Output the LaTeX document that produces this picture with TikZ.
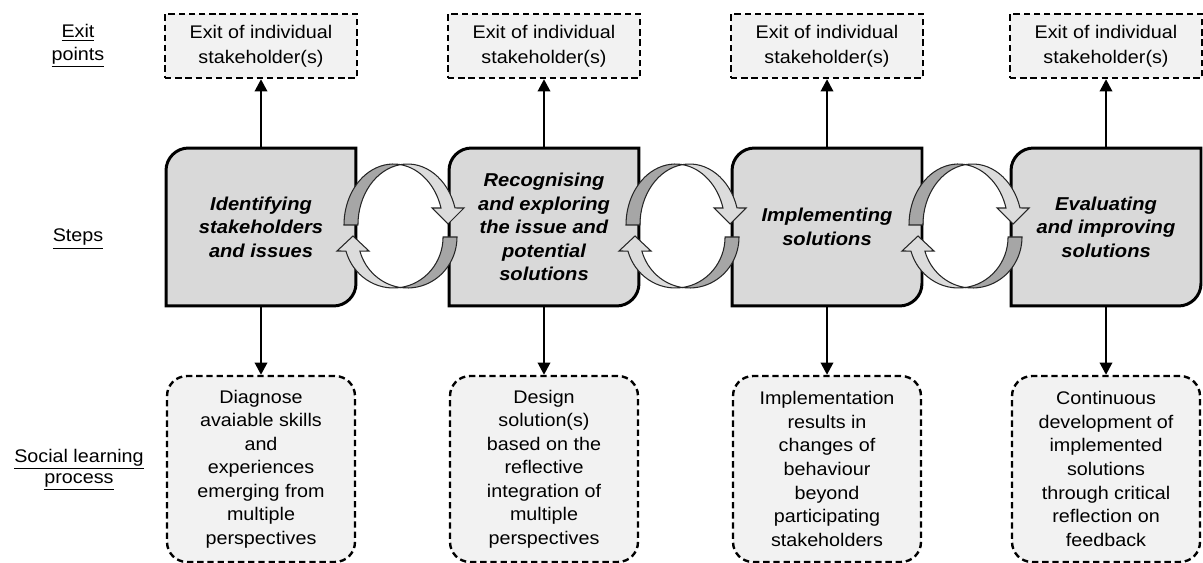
\documentclass[tikz,border=0pt]{standalone}
\usepackage{fontspec}
\setmainfont{Liberation Sans}[FakeStretch=1.08]
\usetikzlibrary{arrows.meta,backgrounds}
\definecolor{exitfill}{RGB}{242,242,242}
\definecolor{stepfill}{RGB}{217,217,217}
\definecolor{turnlight}{RGB}{220,220,220}
\definecolor{turndark}{RGB}{166,166,166}
\tikzset{exitbox/.style={draw,line width=1.35pt,dash pattern=on 3.6pt off 2.2pt,fill=exitfill,minimum width=3.84cm,minimum height=1.28cm,align=center,font=\fontsize{10.4}{14}\selectfont},
learnbox/.style={exitbox,rounded corners=0.4cm,minimum width=3.76cm,minimum height=3.72cm,font=\fontsize{10.4}{13.4}\selectfont},
stepbox/.style={minimum width=3.8cm,minimum height=3.16cm,outer sep=0pt,align=center,font=\fontsize{10.6}{13.3}\selectfont\bfseries\itshape},
stepline/.style={line width=1.7pt,fill=stepfill},
rowlabel/.style={align=center,font=\fontsize{10.4}{13}\selectfont},
link/.style={->,line width=1.5pt},
turn/.style={draw=black!85,line width=0.6pt}}

\begin{document}
\begin{tikzpicture}[x=0.02cm,y=0.02cm,>={Triangle[length=7pt,width=7pt]}]
\useasboundingbox (0,0) rectangle (1203,-563);
% row labels
\node[rowlabel] (lexit) at (78,-46) {\underline{Exit}\\\underline{points}};
\node[rowlabel] (lsteps) at (78,-239) {\underline{Steps}};
\node[rowlabel,font=\fontsize{10.4}{12}\selectfont] (llearn) at (79,-470) {\underline{Social learning}\\\underline{process}};
% exit points
\foreach \i/\x in {1/261,2/544,3/827,4/1106}{
\node[exitbox] (x\i) at (\x,-46) {Exit of individual\\stakeholder(s)};
}
% steps
\node[stepbox] (s1) at (261,-227) {Identifying\\stakeholders\\and issues};
\node[stepbox] (s2) at (544,-227) {Recognising\\and exploring\\the issue and\\potential\\solutions};
\node[stepbox] (s3) at (827,-227) {Implementing\\solutions};
\node[stepbox] (s4) at (1106,-227) {Evaluating\\and improving\\solutions};
\begin{pgfonlayer}{background}
\foreach \i in {1,...,4}{
\draw[stepline] ([yshift=-0.45cm]s\i.north west) arc[start angle=180,end angle=90,radius=0.45cm] -- (s\i.north east) -- ([yshift=0.45cm]s\i.south east) arc[start angle=0,end angle=-90,radius=0.45cm] -- (s\i.south west) -- cycle;
}
\end{pgfonlayer}
% social learning process
\node[learnbox] (l1) at (261,-469) {Diagnose\\avaiable skills\\and\\experiences\\emerging from\\multiple\\perspectives};
\node[learnbox] (l2) at (544,-469) {Design\\solution(s)\\based on the\\reflective\\integration of\\multiple\\perspectives};
\node[learnbox] (l3) at (827,-469) {Implementation\\results in\\changes of\\behaviour\\beyond\\participating\\stakeholders};
\node[learnbox] (l4) at (1106,-469) {Continuous\\development of\\implemented\\solutions\\through critical\\reflection on\\feedback};
% connectors
\foreach \i in {1,...,4}{
\draw[link] (s\i.north) -- (x\i.south);
\draw[link] (s\i.south) -- (l\i.north);
}
% turning arrows between the steps
\foreach \dx in {0,282,565}{
\begin{scope}[shift={(\dx,0)}]
\filldraw[turn,fill=turndark] (344,-225) arc[start angle=180,end angle=81.9,x radius=49.5,y radius=61] arc[start angle=98.1,end angle=180,x radius=49.5,y radius=61] -- cycle;
\filldraw[turn,fill=turnlight] (400.5,-164.6) arc[start angle=98.1,end angle=16.2,x radius=49.5,y radius=61] -- (464,-208) -- (448,-224) -- (432,-208) -- (441,-208) arc[start angle=16.2,end angle=81.9,x radius=49.5,y radius=61] -- cycle;
\filldraw[turn,fill=turndark] (457,-237) arc[start angle=360,end angle=261.9,x radius=49.5,y radius=51] arc[start angle=278.1,end angle=360,x radius=49.5,y radius=51] -- cycle;
\filldraw[turn,fill=turnlight] (400.5,-287.5) arc[start angle=278.1,end angle=196,x radius=49.5,y radius=51] -- (337,-251) -- (353,-236) -- (369,-251) -- (359.9,-251.1) arc[start angle=196,end angle=261.9,x radius=49.5,y radius=51] -- cycle;
\end{scope}
}
\end{tikzpicture}
\end{document}
